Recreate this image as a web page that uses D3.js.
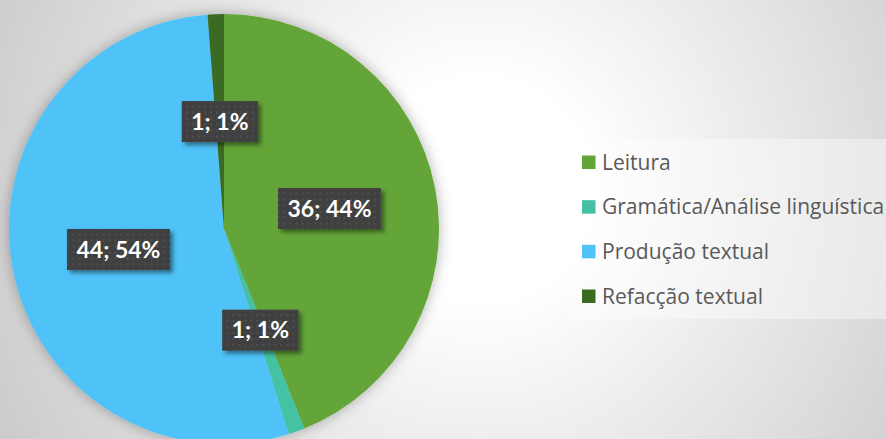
<!DOCTYPE html>
<html>
<head>
<meta charset="utf-8">
<script src="https://cdn.jsdelivr.net/npm/d3@7"></script>
<style>
    body { margin: 0; overflow: hidden; }
    svg { display: block; }
</style>
</head>
<body>
<div id="chart"></div>
<script>
var categories = ["Leitura", "Gramática/Análise linguística", "Produção textual", "Refacção textual"];
var values = [36, 1, 44, 1];
var colors = ["#63a537", "#44c1a3", "#4fc2f8", "#3a6b21"];

var svgWidth = 886;
var svgHeight = 439;

var cx = 224, cy = 229, radius = 215;

var svg = d3.select("#chart")
    .append("svg")
    .attr("width", svgWidth)
    .attr("height", svgHeight);

var defs = svg.append("defs");

// background gradient
var bg = defs.append("radialGradient")
    .attr("id", "bgGrad")
    .attr("gradientUnits", "userSpaceOnUse")
    .attr("cx", 480).attr("cy", 190).attr("r", 560);
bg.append("stop").attr("offset", "0").attr("stop-color", "#ffffff");
bg.append("stop").attr("offset", "0.2").attr("stop-color", "#ffffff");
bg.append("stop").attr("offset", "1").attr("stop-color", "#c8c8c8");

// soft shadow round the pie
var pieShadow = defs.append("filter")
    .attr("id", "pieShadow")
    .attr("x", "-20%").attr("y", "-20%").attr("width", "140%").attr("height", "140%");
pieShadow.append("feDropShadow")
    .attr("dx", 0).attr("dy", 0)
    .attr("stdDeviation", 7)
    .attr("flood-color", "#000")
    .attr("flood-opacity", 0.3);

// shadow of the label boxes
var boxShadow = defs.append("filter")
    .attr("id", "boxShadow")
    .attr("x", "-20%").attr("y", "-30%").attr("width", "150%").attr("height", "170%");
boxShadow.append("feDropShadow")
    .attr("dx", 3).attr("dy", 3)
    .attr("stdDeviation", 2)
    .attr("flood-color", "#000")
    .attr("flood-opacity", 0.45);

// dotted texture of the label boxes
var dots = defs.append("pattern")
    .attr("id", "dots")
    .attr("patternUnits", "userSpaceOnUse")
    .attr("width", 6).attr("height", 6);
dots.append("rect").attr("width", 6).attr("height", 6).attr("fill", "#3f3f3f");
dots.append("rect").attr("x", 2).attr("y", 2).attr("width", 2).attr("height", 2).attr("fill", "#505050");

svg.append("rect")
    .attr("width", svgWidth)
    .attr("height", svgHeight)
    .attr("fill", "url(#bgGrad)");

var total = d3.sum(values);
var data = categories.map((c, i) => ({ name: c, value: values[i], color: colors[i] }));

var pie = d3.pie()
    .sort(null)
    .value(d => d.value);

var arc = d3.arc()
    .innerRadius(0)
    .outerRadius(radius);

var pieGroup = svg.append("g")
    .attr("transform", `translate(${cx}, ${cy})`);

pieGroup.append("g")
    .attr("filter", "url(#pieShadow)")
    .selectAll("path")
    .data(pie(data))
    .enter()
    .append("path")
    .attr("d", arc)
    .attr("fill", d => d.data.color);

// data labels
var labels = pieGroup.selectAll(".lbl")
    .data(pie(data))
    .enter()
    .append("g")
    .attr("class", "lbl")
    .attr("transform", d => `translate(${arc.centroid(d)})`);

labels.append("rect")
    .attr("fill", "url(#dots)")
    .attr("filter", "url(#boxShadow)");

var labelTexts = labels.append("text")
    .attr("text-anchor", "middle")
    .attr("dy", "0.35em")
    .attr("font-family", "Lato, 'Open Sans', sans-serif")
    .attr("font-weight", "bold")
    .attr("font-size", "23px")
    .attr("fill", "#ffffff")
    .text(d => `${d.data.value}; ${Math.round(d.data.value / total * 100)}%`);

labelTexts.each(function () {
    var w = this.getComputedTextLength() + 19;
    var h = 41;
    d3.select(this.parentNode).select("rect")
        .attr("x", -w / 2)
        .attr("y", -h / 2)
        .attr("width", w)
        .attr("height", h);
});

// legend
var legend = svg.append("g");

legend.append("rect")
    .attr("x", 570)
    .attr("y", 139)
    .attr("width", 330)
    .attr("height", 180)
    .attr("fill", "#ffffff")
    .attr("opacity", 0.4);

var legendY = d3.scalePoint()
    .domain(categories)
    .range([162, 296]);

var items = legend.selectAll(".item")
    .data(data)
    .enter()
    .append("g")
    .attr("class", "item")
    .attr("transform", d => `translate(582, ${legendY(d.name)})`);

items.append("rect")
    .attr("x", 0)
    .attr("y", -6.5)
    .attr("width", 13.5)
    .attr("height", 13.5)
    .attr("fill", d => d.color);

items.append("text")
    .attr("x", 20)
    .attr("dy", "0.36em")
    .attr("font-family", "'Open Sans', Lato, sans-serif")
    .attr("font-size", "21px")
    .attr("fill", "#595959")
    .text(d => d.name);
</script>
</body>
</html>
